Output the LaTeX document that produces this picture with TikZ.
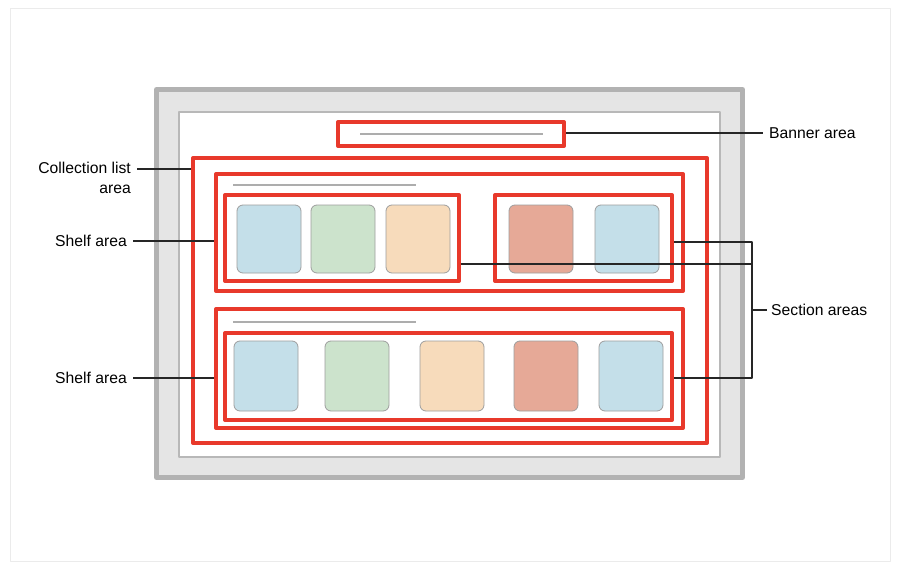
\documentclass[tikz,border=0pt]{standalone}
\usepackage{fontspec}
\setmainfont{Liberation Sans}
\usetikzlibrary{positioning}
\definecolor{areared}{RGB}{232,57,43}
\definecolor{cblue}{RGB}{196,223,233}
\definecolor{cgreen}{RGB}{204,227,204}
\definecolor{corange}{RGB}{247,219,187}
\definecolor{csalmon}{RGB}{230,169,151}
\begin{document}
\begin{tikzpicture}[x=1pt,y=-1pt,line join=round,
	area/.style={draw=areared,line width=4pt,inner sep=0pt},
	card/.style={draw=black!38,line width=0.8pt,rounded corners=6pt},
	rule/.style={draw=black!32,line width=1.2pt},
	leader/.style={draw=black!85,line width=1.2pt},
	lbl/.style={font=\fontsize{15.7}{20}\selectfont,inner xsep=6pt,inner ysep=0pt}]
	\useasboundingbox (0,0) rectangle (900,570);
	\draw[black!8,line width=1pt] (10.5,8.5) rectangle (890.5,561.5);
	% device and screen
	\draw[draw=black!30,fill=black!10,line width=5pt] (156.5,89.5) rectangle (742.5,477.5);
	\draw[draw=black!28,fill=white,line width=1.5pt] (179,112) rectangle (720,457);
	% red areas
	\node[area,minimum width=226pt,minimum height=24pt] (banner) at (451,134) {};
	\node[area,minimum width=514pt,minimum height=285pt] (colllist) at (450,300.5) {};
	\node[area,minimum width=467pt,minimum height=117pt] (secA) at (449.5,232.5) {};
	\node[area,minimum width=467pt,minimum height=119pt] (secB) at (449.5,368.5) {};
	\node[area,minimum width=234pt,minimum height=86pt] (shelfA) at (342,238) {};
	\node[area,minimum width=177pt,minimum height=86pt] (shelfB) at (583.5,238) {};
	\node[area,minimum width=447pt,minimum height=87pt] (shelfC) at (448.5,376.5) {};
	\draw[rule] (360,134) -- (543,134);
	\draw[rule] (233,185) -- (416,185);
	\draw[rule] (233,322) -- (416,322);
	% cards
	\foreach \x/\c in {237/cblue,311/cgreen,386/corange,509/csalmon,595/cblue}
		\draw[card,fill=\c] (\x,205) rectangle ++(64,68);
	\foreach \x/\c in {234/cblue,325/cgreen,420/corange,514/csalmon,599/cblue}
		\draw[card,fill=\c] (\x,341) rectangle ++(64,70);
	% labels
	\node[lbl,anchor=west] (bannerlbl) at (763,133) {Banner area};
	\draw[leader] (banner.east |- bannerlbl.west) -- (bannerlbl.west);
	\coordinate (collpin) at (137,169);
	\node[lbl,anchor=north east,align=right] (colllbl) at ([yshift=7.4pt]collpin) {Collection list\\area};
	\draw[leader] (collpin) -- (colllist.west |- collpin);
	\node[lbl,anchor=east] (shelflblA) at (133,241) {Shelf area};
	\draw[leader] (shelflblA.east) -- (secA.west |- shelflblA.east);
	\node[lbl,anchor=east] (shelflblB) at (133,378) {Shelf area};
	\draw[leader] (shelflblB.east) -- (secB.west |- shelflblB.east);
	% section bracket
	\coordinate (brtop) at (752,242);
	\coordinate (brmid) at (752,264);
	\coordinate (brbot) at (752,378);
	\coordinate (brk) at (752,310);
	\draw[leader] (shelfB.east |- brtop) -- (brtop) -- (brbot) -- (shelfC.east |- brbot);
	\draw[leader] (shelfA.east |- brmid) -- (brmid);
	\node[lbl,anchor=west,inner xsep=4pt] (seclbl) at ([xshift=15pt]brk) {Section areas};
	\draw[leader] (brk) -- (seclbl.west);
\end{tikzpicture}
\end{document}
